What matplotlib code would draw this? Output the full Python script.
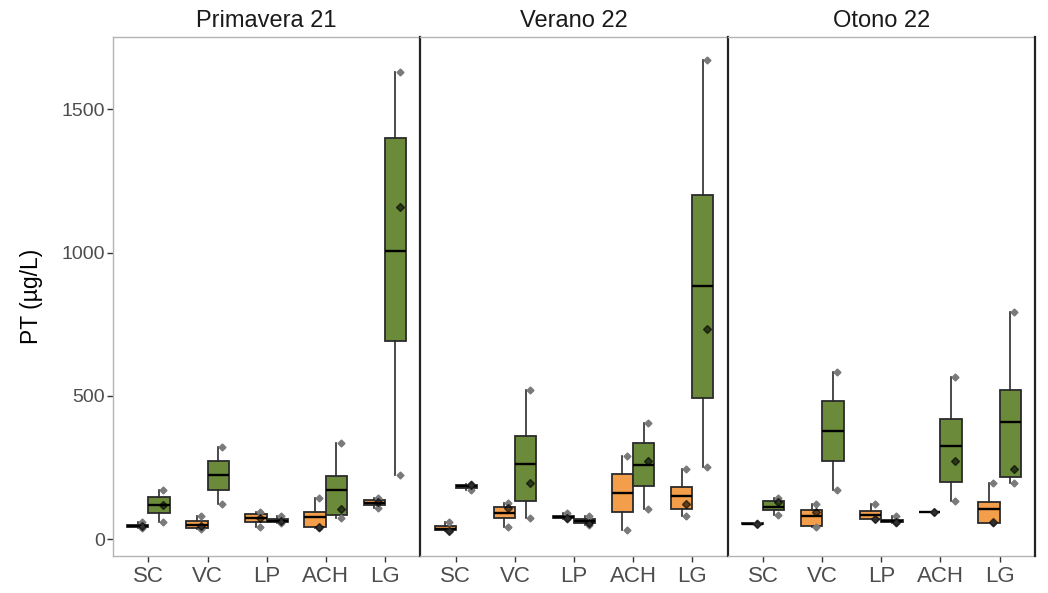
import numpy as np
import matplotlib
matplotlib.use("Agg")
import matplotlib.pyplot as plt

plt.rcParams["font.family"] = ["Liberation Sans", "DejaVu Sans"]

# Seasons (facets) and sampling sites
temporadas = ["Primavera 21", "Verano 22", "Otono 22"]
sitios = ["SC", "VC", "LP", "ACH", "LG"]

# Box statistics for the orange group, one row per season, one value per site (µg/L)
nar_min = [[38, 34, 43, 40, 110], [27, 43, 70, 31, 81], [52, 41, 69, 93, 56]]
nar_q1 = [[42, 38, 60, 41, 120], [30, 72, 73, 95, 104], [53, 47, 70, 93, 56]]
nar_med = [[46, 50, 73, 78, 127], [36, 90, 77, 162, 151], [54, 80, 84, 93, 105]]
nar_q3 = [[50, 63, 87, 93, 135], [44, 113, 82, 226, 182], [55, 101, 98, 93, 130]]
nar_max = [[58, 82, 95, 145, 145], [58, 125, 92, 291, 245], [56, 122, 123, 93, 194]]
nar_media = [[45, 45, 72, 43, 128], [29, 107, 73, np.nan, 122], [54, 93, 69, 93, 58]]

# Box statistics for the green group
ver_min = [[60, 122, 55, 72, 223], [172, 72, 50, 105, 252], [83, 173, 55, 134, 194]]
ver_q1 = [[92, 171, 60, 85, 692], [180, 133, 56, 186, 491], [101, 274, 58, 200, 217]]
ver_med = [[118, 222, 64, 170, 1006], [186, 263, 62, 259, 884], [113, 378, 63, 324, 409]]
ver_q3 = [[147, 273, 70, 219, 1398], [190, 359, 70, 337, 1202], [134, 481, 68, 418, 519]]
ver_max = [[170, 322, 82, 334, 1630], [193, 520, 82, 404, 1671], [145, 583, 82, 564, 791]]
ver_media = [[120, np.nan, 62, 105, 1159], [188, 194, 55, 273, 733], [130, np.nan, 58, 273, 244]]

grupos = [
    dict(color="#F39E4A", lo=nar_min, q1=nar_q1, med=nar_med, q3=nar_q3, hi=nar_max, media=nar_media, shift=-0.18),
    dict(color="#6B8A3A", lo=ver_min, q1=ver_q1, med=ver_med, q3=ver_q3, hi=ver_max, media=ver_media, shift=0.18),
]

fig, axes = plt.subplots(1, 3, figsize=(10.48, 5.93), dpi=100, sharey=True)
fig.subplots_adjust(left=0.1078, right=0.9876, bottom=0.0624, top=0.9376, wspace=0)
fig.patch.set_facecolor("white")

borde = "#2B2B2B"
gris_texto = "#4D4D4D"
x = np.arange(1, len(sitios) + 1)

for k, (ax, temporada) in enumerate(zip(axes, temporadas)):
    for g in grupos:
        stats = []
        for i, s in enumerate(sitios):
            stats.append(dict(whislo=g["lo"][k][i], q1=g["q1"][k][i], med=g["med"][k][i],
                              q3=g["q3"][k][i], whishi=g["hi"][k][i], label=s))
        pos = x + g["shift"]
        ax.bxp(stats, positions=pos, widths=0.36, patch_artist=True,
               showcaps=False, showfliers=False, manage_ticks=False,
               boxprops=dict(facecolor=g["color"], edgecolor=borde, linewidth=1.3),
               medianprops=dict(color="black", linewidth=1.7, solid_capstyle="butt"),
               whiskerprops=dict(color=borde, linewidth=1.2))
        # individual extreme observations
        lo = np.array(g["lo"][k], dtype=float)
        hi = np.array(g["hi"][k], dtype=float)
        ax.plot(pos + 0.07, lo, ls="none", marker="D", ms=3.5, color="#7A7A7A", zorder=4)
        ax.plot(pos + 0.07, hi, ls="none", marker="D", ms=3.5, color="#7A7A7A", zorder=4)
        # mean
        ax.plot(pos + 0.07, np.array(g["media"][k], dtype=float), ls="none", marker="D",
                ms=4.0, color="black", alpha=0.6, zorder=5)

    ax.set_xlim(0.4, 5.6)
    ax.set_ylim(-59, 1752)
    ax.set_xticks(x)
    ax.set_xticklabels(sitios)
    ax.set_yticks([0, 500, 1000, 1500])
    ax.set_title(temporada, fontsize=17, color="#1A1A1A", pad=7)
    ax.tick_params(axis="x", length=4, width=1, color="#333333", labelsize=16,
                   labelcolor=gris_texto, pad=3)
    ax.tick_params(axis="y", length=4, width=1, color="#333333", labelsize=14,
                   labelcolor=gris_texto, pad=2)
    for side in ["left", "top", "bottom"]:
        ax.spines[side].set_color("#B3B3B3")
        ax.spines[side].set_linewidth(1.0)
    ax.spines["right"].set_color("#222222")
    ax.spines["right"].set_linewidth(1.6)
    ax.spines["right"].set_zorder(10)
    # transparent panel background so neighbouring borders stay visible
    ax.patch.set_visible(False)
    if k > 0:
        ax.tick_params(axis="y", left=False)
        ax.spines["left"].set_visible(False)

axes[0].set_ylabel("PT (µg/L)", fontsize=16.5, color="black", labelpad=13)

fig.savefig("out.png", dpi=100, facecolor="white")
